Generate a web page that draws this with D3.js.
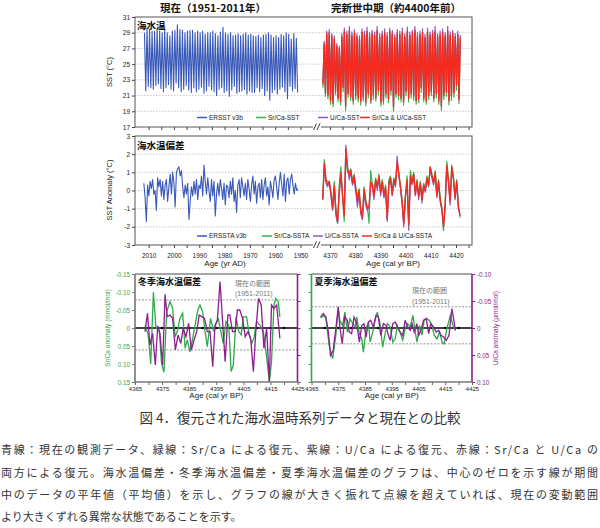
<!DOCTYPE html>
<html><head><meta charset="utf-8">
<script src="https://cdn.jsdelivr.net/npm/d3@7"></script>
<style>body{margin:0;background:#fff}svg{display:block}</style>
</head><body><svg id="c" width="600" height="528"></svg>
<script>
// ---------------- DATA ----------------
// Top panel, present (ERSST v3b), annual maxima / minima, 2011 -> 1951
const blueSSTPeaks = [29.0,29.5,29.3,29.2,29.2,29.5,29.2,29.0,29.4,29.0,
  28.6,29.2,29.3,30.0,29.4,29.3,29.0,29.2,29.3,29.3,
  29.0,29.2,29.0,29.2,28.8,29.0,29.0,29.2,28.9,28.6,
  29.1,29.7,29.0,28.8,29.0,28.6,28.7,28.9,28.6,28.8,
  29.0,28.7,28.8,28.6,28.5,28.7,28.4,28.7,28.8,29.0,
  28.7,28.4,28.6,28.4,28.8,28.6,29.0,28.8,28.2,28.9,28.3];
const blueSSTTroughs = [21.6,22.2,22.0,21.8,22.3,22.5,21.9,21.5,22.0,22.4,
  21.8,21.6,22.6,22.0,21.5,21.8,22.3,21.7,21.4,22.0,
  21.5,21.8,22.1,21.3,21.6,22.2,21.7,21.5,21.0,21.8,
  22.0,21.4,21.6,20.9,21.7,22.2,21.3,21.5,21.6,21.8,
  21.2,21.6,21.4,21.4,22.0,21.5,21.9,21.0,21.6,20.4,
  21.4,21.7,21.2,21.8,22.1,21.5,20.6,22.2,21.6,21.9,21.4];
const presentFirstYear = 2011;

// Top panel, mid-Holocene, annual maxima / minima, 4367 -> 4421 cal yr BP
const holoFirstYear = 4367;
const redSSTPeaks = [27.6,28.9,29.0,28.6,28.2,27.3,27.0,28.5,29.2,28.8,
  29.3,28.7,29.0,28.5,28.2,29.1,28.8,29.2,28.6,28.9,
  28.7,29.3,28.5,28.8,29.0,28.6,29.2,28.9,28.4,29.0,
  28.8,29.1,28.5,29.2,28.7,28.9,29.3,28.6,28.8,29.0,
  28.4,29.1,28.7,28.9,29.2,28.5,28.8,29.0,28.6,29.3,
  28.7,28.9,28.5,28.8,28.4];
const redSSTTroughs = [22.4,21.3,21.0,20.3,20.0,21.5,20.6,20.2,22.0,19.6,
  21.2,20.8,20.3,21.0,20.6,20.2,20.7,20.1,21.2,20.3,
  21.0,20.7,21.6,20.1,20.3,21.2,20.5,21.6,19.5,21.2,
  21.0,20.6,20.2,21.5,20.6,21.2,20.9,20.3,20.5,22.0,
  20.6,20.3,21.0,21.5,20.6,21.2,20.3,19.6,21.0,21.4,
  20.3,20.9,21.3,22.3,20.5];
const purpleSSTPeaks = [27.9,29.2,29.4,28.9,28.6,27.6,27.3,28.9,29.6,29.2,
  29.8,29.1,29.4,28.9,28.6,29.5,29.2,29.7,29.0,29.3,
  29.1,29.8,28.9,29.2,29.5,29.0,29.6,29.3,28.8,29.4,
  29.2,29.6,28.9,29.7,29.1,29.3,29.8,29.0,29.2,29.5,
  28.8,29.6,29.1,29.3,29.8,28.9,29.2,29.5,29.0,29.8,
  29.1,29.3,28.9,29.2,28.7];
const purpleSSTTroughs = [22.6,21.5,21.2,20.5,20.2,21.7,20.8,20.4,22.2,19.8,
  21.4,21.0,20.5,21.2,20.8,20.4,20.9,20.3,21.4,20.5,
  21.2,20.9,21.8,20.3,20.5,21.4,20.7,21.8,19.7,21.4,
  21.2,20.8,20.4,21.7,20.8,21.4,21.1,20.5,20.7,22.2,
  20.8,20.5,21.2,21.7,20.8,21.4,20.5,19.8,21.2,21.6,
  20.5,21.1,21.5,22.5,20.7];
const greenSSTPeaks = [27.5,28.8,28.9,28.5,28.1,27.2,26.9,28.4,29.1,28.7,
  29.2,28.6,28.9,28.4,28.1,29.0,28.7,29.1,28.5,28.8,
  28.6,29.2,28.4,28.7,28.9,28.5,29.1,28.8,28.3,28.9,
  28.7,29.0,28.4,29.1,28.6,28.8,29.2,28.5,28.7,28.9,
  28.3,29.0,28.6,28.8,29.1,28.4,28.7,28.9,28.5,29.2,
  28.6,28.8,28.4,28.7,28.3];
const greenSSTTroughs = [22.0,20.9,20.6,19.9,19.6,21.1,20.2,19.8,21.5,19.1,
  20.8,20.4,19.9,20.5,20.2,19.8,20.3,19.7,20.7,20.0,
  20.5,20.3,21.1,19.7,19.9,20.7,20.1,21.1,19.0,20.8,
  20.5,20.2,19.8,21.0,20.2,20.7,20.4,19.9,20.1,21.4,
  20.2,19.9,20.5,21.0,20.2,20.7,19.9,19.1,20.5,20.9,
  19.8,20.4,20.8,21.7,20.0];

// Middle panel, anomalies
const blueAnomStart = 2011.9, blueAnomEnd = 1951.0;
const blueAnom = [0.4,-0.4,-1.7,0.3,-0.3,0.5,0.1,0.6,-0.2,0.0,-1.1,0.7,0.2,0.6,-0.3,0.5,-0.5,0.3,0.6,-0.6,
  0.2,0.9,-0.2,1.0,0.4,-0.9,1.0,1.2,1.3,0.8,1.1,0.2,-0.4,0.3,-0.2,0.4,-1.6,-0.6,0.2,-0.3,
  0.5,-0.2,0.6,-0.5,0.3,0.1,0.8,-0.3,1.4,0.5,-0.2,0.7,0.0,-0.6,0.6,-0.3,0.5,-1.4,-0.2,0.4,
  -0.3,0.6,0.1,-0.5,0.4,-0.8,0.3,0.2,-0.4,0.5,-0.2,0.7,-0.6,0.0,-1.2,0.3,0.6,-0.4,0.7,0.2,
  -0.3,0.4,-0.5,0.6,0.1,-0.6,0.3,0.8,-0.2,0.5,-0.7,0.2,0.4,-0.4,0.6,-0.5,0.3,0.7,-0.3,0.2,
  -0.8,0.5,0.1,-0.4,0.6,0.8,0.2,-0.5,0.4,1.0,0.3,-0.3,0.9,-0.6,0.5,0.7,-0.2,0.6,0.9,0.3,
  -0.2,0.4,0.0,0.1];
const holoAnomStart = 4367.1, holoAnomEnd = 4421.6;
const redAnom = [-0.5,1.5,0.6,0.3,0.5,-0.2,-1.0,0.3,-1.2,-1.7,0.0,1.0,-0.3,-1.4,2.3,1.2,0.8,1.1,0.4,0.8,
  0.1,-0.6,0.0,-1.1,-1.5,0.1,-0.6,-1.0,-0.9,0.5,0.3,-0.3,0.6,0.2,0.8,-0.1,0.5,-0.3,0.2,-1.6,
  0.4,0.7,-0.2,0.6,0.3,1.6,0.9,0.2,-0.6,-1.8,-0.3,0.6,-1.9,0.8,0.4,0.9,-0.2,0.5,-0.3,0.4,
  -0.5,0.3,0.0,0.7,0.3,1.3,0.8,0.4,1.0,-0.3,0.5,-0.5,-1.0,-2.0,-0.8,1.4,0.5,-0.6,1.3,0.7,
  -0.4,0.5,-0.9,-1.4];
const greenAnom = [-0.5,1.7,0.6,0.5,0.4,-0.1,-0.9,0.5,-1.0,-1.8,0.3,1.3,-0.4,-1.7,2.1,1.0,1.0,1.2,0.5,0.9,
  0.2,-0.4,0.1,-1.0,-1.4,0.2,-0.5,-0.9,-1.8,1.1,0.4,-0.2,0.7,0.2,0.9,0.0,0.6,-0.2,0.3,-1.5,
  0.6,0.8,-0.1,0.7,0.4,1.4,1.0,0.3,-0.5,-1.7,-0.2,0.8,-1.8,1.1,0.5,1.0,-0.1,0.6,-0.3,0.5,
  -0.4,0.4,0.1,0.8,0.3,1.3,0.9,0.5,1.1,-0.2,0.6,-0.4,-0.9,-2.2,-0.7,1.6,0.7,-0.5,1.4,0.8,
  -0.3,0.6,-0.8,-1.5];
const purpleAnom = [-0.5,1.3,0.4,0.2,0.5,-0.3,-1.1,0.2,-1.4,-1.8,-0.2,0.8,-0.2,-1.3,2.5,1.4,0.6,1.0,0.3,0.6,
  -0.1,-0.9,-0.2,-1.3,-1.6,-0.2,-0.8,-1.1,-0.9,0.3,0.2,-0.5,0.5,0.0,0.7,-0.3,0.4,-0.4,0.0,-1.7,
  0.3,0.6,-0.3,0.5,0.2,1.9,0.8,0.1,-0.8,-2.0,-0.4,0.4,-2.2,0.6,0.3,0.8,-0.3,0.4,-0.5,0.3,
  -0.7,0.2,-0.1,0.6,0.2,1.2,0.7,0.3,0.9,-0.4,0.4,-0.6,-1.1,-1.9,-1.0,1.3,0.4,-0.8,1.1,0.6,
  -0.5,0.4,-1.0,-1.3];

// Bottom panels: winter / summer anomalies (Sr/Ca in mmol/mol, U/Ca in µmol/mol)
const winterSrYears = [4368.7,4369.9,4370.8,4371.8,4372.7,4374.0,4374.8,4375.7,4376.7,4377.9,4378.9,4379.8,4380.6,4381.6,4382.6,4383.5,4384.3,4385.3,4386.3,4387.3,4388.2,4389.0,4390.0,4390.8,4391.7,4392.9,4393.9,4394.9,4395.8,4396.6,4397.6,4398.6,4399.6,4400.5,4401.3,4402.3,4403.3,4404.2,4405.0,4406.2,4407.2,4408.1,4408.9,4409.9,4411.1,4412.4,4413.6,4414.6,4415.4,4416.3,4417.0,4417.9,4418.5];
const winterSr = [-0.008,0.019,0.100,-0.099,-0.004,0.010,0.098,0.123,-0.045,-0.073,-0.055,0.024,0.010,-0.027,-0.041,0.056,0.033,0.066,0.029,-0.013,-0.050,-0.064,-0.045,0.006,0.052,-0.027,0.006,-0.013,-0.025,0.006,0.043,-0.018,-0.008,0.121,0.103,-0.031,0.010,0.019,-0.031,-0.031,0.019,0.043,0.029,-0.018,-0.008,0.010,0.080,0.149,0.094,-0.064,-0.082,-0.073,-0.031];
const winterUYears = [4368.7,4369.6,4370.5,4371.5,4372.5,4373.4,4374.2,4375.2,4376.1,4376.9,4377.9,4378.9,4379.9,4380.9,4381.9,4382.8,4383.8,4384.8,4385.8,4386.8,4387.8,4388.7,4389.7,4390.7,4391.7,4392.7,4393.7,4394.5,4395.4,4396.4,4397.3,4398.3,4399.3,4400.0,4401.0,4402.0,4402.8,4403.7,4404.7,4405.7,4406.7,4407.7,4408.7,4409.6,4410.6,4411.6,4412.6,4413.6,4414.6,4415.4,4416.3,4417.3,4418.5];
const winterU = [0.0068,-0.0271,0.0315,0.0099,0.0685,-0.0043,0.0099,0.0685,-0.0623,-0.0210,-0.0241,-0.0179,0.0407,0.0130,0.0284,0.0006,0.0160,-0.0086,0.0407,0.0222,0.0068,-0.0241,-0.0210,-0.0179,0.0068,0.0068,0.0716,-0.0025,-0.0148,-0.0858,-0.0148,0.0623,-0.0241,-0.0241,0.0068,0.0068,-0.0333,-0.0333,-0.0179,0.0160,0.0068,0.0191,0.0808,0.0068,-0.0549,-0.0426,0.0376,0.0006,0.1000,-0.0426,-0.0364,-0.0426,0.0191];
const summerSrYears = [4368.4,4369.6,4370.4,4371.6,4372.9,4374.1,4375.0,4375.6,4376.6,4377.5,4378.4,4379.4,4380.4,4381.3,4381.9,4382.9,4383.8,4384.4,4385.4,4386.3,4386.9,4387.9,4388.8,4389.6,4390.6,4391.6,4392.5,4393.4,4394.4,4395.4,4396.3,4397.1,4398.1,4399.1,4400.0,4400.9,4401.9,4402.9,4403.8,4404.4,4405.4,4406.3,4407.1,4408.1,4409.1,4410.0,4410.9,4411.9,4412.9,4413.8,4414.6,4415.6,4416.9,4417.9,4418.8];
const summerSr = [-0.028,-0.035,-0.026,0.048,0.085,0.020,-0.054,-0.021,-0.007,-0.044,0.011,-0.026,-0.012,-0.003,-0.031,0.016,0.030,0.067,0.002,-0.017,0.039,0.011,-0.021,-0.044,-0.012,0.053,0.016,-0.012,-0.003,0.039,0.030,-0.007,0.011,0.034,0.002,-0.012,-0.003,-0.035,0.011,0.039,-0.007,0.020,-0.021,-0.026,-0.021,-0.007,0.020,0.030,0.011,0.039,0.044,0.002,-0.035,-0.007,0.006];
const summerUYears = [4368.4,4369.4,4370.4,4371.3,4372.1,4373.1,4374.1,4375.0,4375.6,4376.5,4377.4,4378.4,4379.1,4380.0,4380.9,4381.9,4382.9,4383.8,4384.6,4385.4,4386.3,4387.1,4388.1,4389.1,4390.0,4390.9,4391.9,4392.9,4393.4,4394.4,4395.4,4396.3,4397.1,4398.1,4399.1,4400.0,4400.9,4401.9,4402.6,4403.4,4404.4,4405.1,4405.9,4406.9,4407.9,4408.8,4409.6,4410.6,4411.6,4412.5,4413.4,4414.4,4415.4,4416.4,4417.5,4418.8];
const summerU = [-0.0205,-0.0267,-0.0205,0.0075,0.0510,0.0417,0.0012,-0.0392,-0.0019,0.0292,-0.0205,-0.0143,0.0075,0.0106,-0.0205,-0.0081,0.0261,-0.0050,-0.0081,0.0168,-0.0112,-0.0143,-0.0019,-0.0236,-0.0205,0.0137,-0.0081,-0.0050,0.0075,0.0230,-0.0081,-0.0112,-0.0019,0.0075,0.0137,-0.0143,-0.0019,0.0044,-0.0081,0.0075,-0.0081,0.0137,0.0044,-0.0143,-0.0174,0.0106,-0.0081,-0.0019,0.0075,0.0044,0.0137,0.0168,0.0230,0.0137,-0.0361,0.0044];
// present-day range (dashed lines), Sr/Ca units
const winterRange = [-0.078, 0.061];
const summerRange = [-0.059, 0.044];
const meanMarkYears = [4370,4375,4380,4385,4390,4395,4400,4405,4410,4415,4420];

// ticks / labels
const sstTicks = [17,19,21,23,25,27,29,31];
const sstGrid = [19,21,23,25,27,29];
const anomTicks = [-3,-2,-1,0,1,2,3];
const anomGrid = [-2,-1,0,1,2];
const adTicks = [2010,2005,2000,1995,1990,1985,1980,1975,1970,1965,1960,1955,1950];
const bpTicks = [4370,4375,4380,4385,4390,4395,4400,4405,4410,4415,4420,4425];
const smallBpTicks = [4365,4370,4375,4380,4385,4390,4395,4400,4405,4410,4415,4420,4425];
const srTicks = [-0.15,-0.10,-0.05,0,0.05,0.10,0.15];
const uTicks = [-0.10,-0.05,0,0.05,0.10];
const topLegend = ["ERSST v3b","Sr/Ca-SST","U/Ca-SST","Sr/Ca & U/Ca-SST"];
const midLegend = ["ERSSTA v3b","Sr/Ca-SSTA","U/Ca-SSTA","Sr/Ca & U/Ca-SSTA"];
const captionTitle = "図 4．復元された海水温時系列データと現在との比較";
const captionLines = [
  "青線：現在の観測データ、緑線：Sr/Ca による復元、紫線：U/Ca による復元、赤線：Sr/Ca と U/Ca の",
  "両方による復元。海水温偏差・冬季海水温偏差・夏季海水温偏差のグラフは、中心のゼロを示す線が期間",
  "中のデータの平年値（平均値）を示し、グラフの線が大きく振れて点線を超えていれば、現在の変動範囲",
  "より大きくずれる異常な状態であることを示す。"];

// ---------------- DRAWING ----------------
const C = {blue:"#3859b8", green:"#36b54a", purple:"#8a5cc2", red:"#f52a1c",
           dgreen:"#2fa84a", dpurple:"#8b1f8e", axis:"#444", grid:"#bdbdbd"};
const AR = "'Liberation Sans', Arial, sans-serif";
const JP = "'Noto Sans CJK JP', 'Noto Sans CJK SC', sans-serif";
const svg = d3.select("#c");
svg.append("rect").attr("width",600).attr("height",528).attr("fill","#fff");

const PL = 135, PR = 472;
const xL = d3.scaleLinear().domain([2015,1950]).range([136,300.5]);
const xR = d3.scaleLinear().domain([4365,4425]).range([317.4,468.6]);
const yT = d3.scaleLinear().domain([17,31]).range([127,17]);
const yM = d3.scaleLinear().domain([-3,3]).range([245,136]);

function styleAxis(g, color, fs){
  g.select(".domain").remove();
  g.selectAll("line").attr("stroke", color||C.axis);
  g.selectAll("text").attr("font-family",AR).attr("font-size",fs||6.5).attr("fill","#222");
}

// titles
svg.append("text").attr("x",213).attr("y",12).attr("text-anchor","middle")
  .attr("font-family",JP).attr("font-weight","bold").attr("font-size",10.5).attr("fill","#111").text("現在（1951-2011年）");
svg.append("text").attr("x",396).attr("y",12).attr("text-anchor","middle")
  .attr("font-family",JP).attr("font-weight","bold").attr("font-size",10.5).attr("fill","#111").text("完新世中期（約4400年前）");

function drawPanel(yScale, ticks, grid, top, bot, withLabels){
  const g = svg.append("g");
  g.selectAll(".gl").data(grid).join("line")
    .attr("x1",PL).attr("x2",PR).attr("y1",d=>yScale(d)).attr("y2",d=>yScale(d))
    .attr("stroke",C.grid).attr("stroke-width",0.8).attr("stroke-dasharray","1.5,1.5");
  const ya = g.append("g").attr("transform",`translate(${PL},0)`)
    .call(d3.axisLeft(yScale).tickValues(ticks).tickSize(3).tickPadding(2).tickFormat(d=>String(d)));
  styleAxis(ya);
  const xa1 = g.append("g").attr("transform",`translate(0,${bot})`)
    .call(d3.axisBottom(xL).tickValues(adTicks).tickSize(3).tickPadding(5)
      .tickFormat(d=> withLabels && d%10===0 ? String(d) : ""));
  styleAxis(xa1);
  const xa2 = g.append("g").attr("transform",`translate(0,${bot})`)
    .call(d3.axisBottom(xR).tickValues(bpTicks).tickSize(3).tickPadding(5)
      .tickFormat(d=> withLabels && d%10===0 && d<4425 ? String(d) : ""));
  styleAxis(xa2);
  g.append("rect").attr("x",PL).attr("y",top).attr("width",PR-PL).attr("height",bot-top)
    .attr("fill","none").attr("stroke","#555").attr("stroke-width",1);
  return g;
}
const gTop = drawPanel(yT, sstTicks, sstGrid, 17, 127, false);
const gMid = drawPanel(yM, anomTicks, anomGrid, 136, 245, true);

// series builders
function presentCycle(peaks, troughs){
  const pts=[];
  peaks.forEach((p,i)=>{const yr=presentFirstYear-i; pts.push({t:yr+0.65,v:p}); if(i<troughs.length) pts.push({t:yr+0.15,v:troughs[i]});});
  return pts;
}
function holoCycle(peaks, troughs){
  const pts=[];
  troughs.forEach((tr,i)=>{const yr=holoFirstYear+i; pts.push({t:yr+0.2,v:tr}); if(i<peaks.length) pts.push({t:yr+0.7,v:peaks[i]});});
  return pts;
}
function evenSeries(vals, t0, t1){
  return vals.map((v,i)=>({t: t0 + (t1-t0)*i/(vals.length-1), v}));
}
function path(g, pts, xs, ys, color, w){
  g.append("path").datum(pts).attr("fill","none").attr("stroke",color).attr("stroke-width",w||1.2)
    .attr("stroke-linejoin","round").attr("d", d3.line().x(d=>xs(d.t)).y(d=>ys(d.v)));
}
// top
path(gTop, presentCycle(blueSSTPeaks, blueSSTTroughs), xL, yT, C.blue, 1.1);
path(gTop, holoCycle(greenSSTPeaks, greenSSTTroughs), xR, yT, C.green, 1.2);
path(gTop, holoCycle(purpleSSTPeaks, purpleSSTTroughs), xR, yT, C.purple, 1.2);
path(gTop, holoCycle(redSSTPeaks, redSSTTroughs), xR, yT, C.red, 1.3);
// middle
path(gMid, evenSeries(blueAnom, blueAnomStart, blueAnomEnd), xL, yM, C.blue, 1.1);
path(gMid, evenSeries(greenAnom, holoAnomStart, holoAnomEnd), xR, yM, C.green, 1.2);
path(gMid, evenSeries(purpleAnom, holoAnomStart, holoAnomEnd), xR, yM, C.purple, 1.2);
path(gMid, evenSeries(redAnom, holoAnomStart, holoAnomEnd), xR, yM, C.red, 1.3);

// axis breaks
[127,245].forEach(y=>{
  svg.append("rect").attr("x",313).attr("y",y-1.5).attr("width",8).attr("height",3).attr("fill","#fff");
  [313.5,317].forEach(x=>svg.append("line").attr("x1",x).attr("y1",y+3).attr("x2",x+3).attr("y2",y-3.5)
    .attr("stroke","#222").attr("stroke-width",0.9));
});

// legends
function legend(labels, y, xs){
  const cols=[C.blue,C.green,C.purple,C.red];
  labels.forEach((lab,i)=>{
    svg.append("line").attr("x1",xs[i]).attr("x2",xs[i]+10).attr("y1",y).attr("y2",y).attr("stroke",cols[i]).attr("stroke-width",1.5);
    svg.append("text").attr("x",xs[i]+12).attr("y",y+2.3).attr("font-family",AR).attr("font-size",6.5).attr("fill","#222").text(lab);
  });
}
legend(topLegend, 117.5, [197,256,318,360]);
legend(midLegend, 236, [197,262,313,362]);

// panel labels
svg.append("text").attr("x",137).attr("y",29).attr("font-family",JP).attr("font-weight","bold").attr("font-size",9.5).attr("fill","#111").text("海水温");
svg.append("text").attr("x",137).attr("y",148.5).attr("font-family",JP).attr("font-weight","bold").attr("font-size",9.5).attr("fill","#111").text("海水温偏差");

// axis titles
function vlabel(x,y,txt,color,fs){
  svg.append("text").attr("transform",`translate(${x},${y}) rotate(-90)`).attr("text-anchor","middle")
    .attr("font-family",AR).attr("font-size",fs).attr("fill",color).text(txt);
}
vlabel(112,72,"SST (°C)","#222",7.5);
vlabel(112,190,"SST Anomaly (°C)","#222",7.5);
svg.append("text").attr("x",225).attr("y",266).attr("text-anchor","middle").attr("font-family",AR).attr("font-size",8).attr("fill","#222").text("Age (yr AD)");
svg.append("text").attr("x",393).attr("y",266).attr("text-anchor","middle").attr("font-family",AR).attr("font-size",8).attr("fill","#222").text("Age (cal yr BP)");

// ---------------- bottom panels ----------------
const bTop=274, bBot=382;
const ySr = d3.scaleLinear().domain([-0.15,0.15]).range([bTop,bBot]);
const yU  = d3.scaleLinear().domain([-0.10,0.10]).range([bTop,bBot]);
const fmt = d => d===0 ? "0" : (d<0?"-":"") + Math.abs(d).toFixed(2);

function smallPanel(x0, x1, srYears, sr, uYears, u, range, title, rangeX, rangeY, leftLabels){
  const xs = d3.scaleLinear().domain([4365,4425]).range([x0,x1]);
  const g = svg.append("g");
  g.selectAll(".rg").data(range).join("line").attr("x1",x0).attr("x2",x1)
    .attr("y1",d=>ySr(d)).attr("y2",d=>ySr(d)).attr("stroke","#8a8a8a").attr("stroke-width",0.9).attr("stroke-dasharray","2,1.5");
  g.append("line").attr("x1",x0).attr("x2",x1).attr("y1",ySr(0)).attr("y2",ySr(0)).attr("stroke","#000").attr("stroke-width",1.6);
  g.selectAll(".mk").data(meanMarkYears).join("rect").attr("x",d=>xs(d)-1.1).attr("y",ySr(0)-1.1)
    .attr("width",2.2).attr("height",2.2).attr("fill","#000");
  const ln = (ys)=>d3.line().x(d=>xs(d[0])).y(d=>ys(d[1]));
  g.append("path").datum(srYears.map((t,i)=>[t,sr[i]])).attr("fill","none").attr("stroke",C.dgreen).attr("stroke-width",1.3).attr("d",ln(ySr));
  g.append("path").datum(uYears.map((t,i)=>[t,u[i]])).attr("fill","none").attr("stroke",C.dpurple).attr("stroke-width",1.3).attr("d",ln(yU));
  g.append("line").attr("x1",x0).attr("x2",x1).attr("y1",bTop).attr("y2",bTop).attr("stroke","#888").attr("stroke-width",1.5);
  const la = g.append("g").attr("transform",`translate(${x0},0)`)
    .call(d3.axisLeft(ySr).tickValues(srTicks).tickSize(3).tickPadding(2).tickFormat(leftLabels?fmt:()=>""));
  la.select(".domain").remove();
  la.selectAll("line").attr("stroke", leftLabels?"#777":C.dgreen);
  la.selectAll("text").attr("font-family",AR).attr("font-size",6.3).attr("fill",C.dgreen);
  g.append("line").attr("x1",x0).attr("x2",x0).attr("y1",bTop).attr("y2",bBot).attr("stroke",leftLabels?"#777":C.dgreen).attr("stroke-width",1.6);
  const ra = g.append("g").attr("transform",`translate(${x1},0)`)
    .call(d3.axisRight(yU).tickValues(uTicks).tickSize(3).tickPadding(2).tickFormat(leftLabels?()=>"":fmt));
  ra.select(".domain").remove();
  ra.selectAll("line").attr("stroke",C.dpurple);
  ra.selectAll("text").attr("font-family",AR).attr("font-size",6.3).attr("fill",C.dpurple);
  g.append("line").attr("x1",x1).attr("x2",x1).attr("y1",bTop).attr("y2",bBot).attr("stroke",C.dpurple).attr("stroke-width",1.6);
  const ba = g.append("g").attr("transform",`translate(0,${bBot})`)
    .call(d3.axisBottom(xs).tickValues(smallBpTicks).tickSize(3).tickPadding(2)
      .tickFormat(d=>(d-4365)%10===0?String(d):""));
  ba.select(".domain").remove();
  ba.selectAll("line").attr("stroke","#666");
  ba.selectAll("text").attr("font-family",AR).attr("font-size",6).attr("fill","#222");
  g.append("line").attr("x1",x0).attr("x2",x1).attr("y1",bBot).attr("y2",bBot).attr("stroke","#777").attr("stroke-width",1.6);
  g.append("text").attr("x",x0+3).attr("y",285).attr("font-family",JP).attr("font-weight","bold").attr("font-size",9).attr("fill","#111").text(title);
  g.append("text").attr("x",rangeX).attr("y",rangeY).attr("font-family",JP).attr("font-size",7).attr("fill","#777").text("現在の範囲");
  g.append("text").attr("x",rangeX).attr("y",rangeY+10.5).attr("font-family",AR).attr("font-size",7).attr("fill","#777").text("(1951-2011)");
  g.append("text").attr("x",(x0+x1)/2).attr("y",398).attr("text-anchor","middle").attr("font-family",AR).attr("font-size",8).attr("fill","#222").text("Age (cal yr BP)");
}
smallPanel(135,297.5, winterSrYears, winterSr, winterUYears, winterU, winterRange, "冬季海水温偏差", 235, 285.5, true);
smallPanel(311.5,472, summerSrYears, summerSr, summerUYears, summerU, summerRange, "夏季海水温偏差", 412, 293, false);
vlabel(110,328,"Sr/Ca anomaly (mmol/mol)",C.dgreen,6.5);
vlabel(498,328,"U/Ca anomaly (µmol/mol)",C.dpurple,6.5);

// ---------------- caption ----------------
svg.append("text").attr("x",300).attr("y",423).attr("text-anchor","middle").attr("font-family",JP)
  .attr("font-size",13.5).attr("fill","#333").text(captionTitle);
const capY=[454,477,499,521];
captionLines.forEach((s,i)=>{
  const t=svg.append("text").attr("x",1).attr("y",capY[i]).attr("font-family",JP).attr("font-size",11).attr("fill","#333").text(s);
  if(i<3) t.attr("textLength",597).attr("lengthAdjust","spacing");
});
</script></body></html>
